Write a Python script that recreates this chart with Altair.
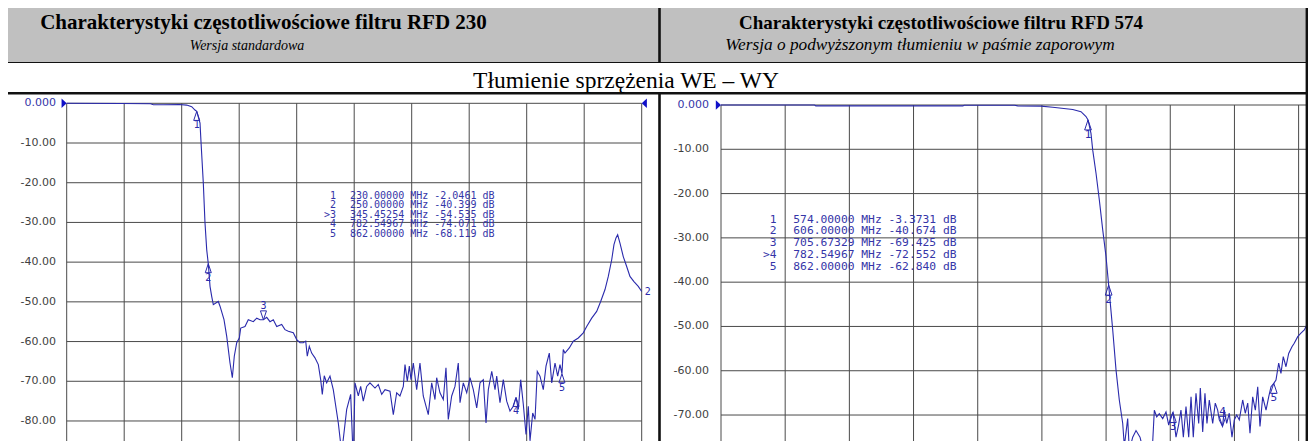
import altair as alt
import pandas as pd

# ---------------- text ----------------
TITLE_L = "Charakterystyki częstotliwościowe filtru RFD 230"
SUB_L = "Wersja standardowa"
TITLE_R = "Charakterystyki częstotliwościowe filtru RFD 574"
SUB_R = "Wersja o podwyższonym tłumieniu w paśmie zaporowym"
ROW2 = "Tłumienie sprzężenia WE – WY"

# ---------------- axes ----------------
F_START, F_STOP = 5.0, 1000.0
GRID_FREQ = [5, 104.5, 204, 303.5, 403, 502.5, 602, 701.5, 801, 900.5, 1000]
DB_TICKS = [0, -10, -20, -30, -40, -50, -60, -70, -80, -90]
DB_LABELS = ["0.000", "-10.00", "-20.00", "-30.00", "-40.00", "-50.00",
             "-60.00", "-70.00", "-80.00", "-90.00"]

# ---------------- RFD 230 trace (MHz, dB) ----------------
L_FREQ = [5, 100, 150, 155, 172, 200, 212.6, 221.3, 227.0, 230.0,
          235.7, 237.4, 241.4, 244.3, 247.3, 250.0, 253.0, 255.9, 258.7, 267.3,
          270.3, 277.2, 281.9, 287.6, 291.6, 295.0, 299.2, 303.7, 306.1, 313.5,
          319.2, 327.9, 333.8, 339.5, 345.5, 351.1, 356.8, 362.5, 368.4, 377.0,
          382.7, 388.5, 397.1, 403.0, 408.7, 414.4, 418.6, 421.3, 424.8, 428.9,
          434.6, 440.4, 444.5, 447.3, 450.7, 454.9, 460.6, 466.3, 475.0, 480.9,
          489.5, 496.4, 500.9, 503.9, 509.6, 513.7, 518.2, 524.1, 529.8, 538.5,
          544.2, 550.1, 555.8, 564.4, 570.2, 576.0, 581.7, 587.5, 590.4, 594.4,
          597.9, 600.8, 604.8, 610.6, 616.3, 622.0, 630.7, 636.6, 642.3, 645.2,
          650.9, 656.7, 661.3, 665.3, 671.2, 676.9, 682.6, 685.6, 691.3, 697.2,
          702.9, 708.6, 714.5, 720.2, 725.9, 730.6, 734.6, 740.5, 746.2, 749.1,
          754.8, 760.5, 766.4, 772.1, 777.8, 782.5, 786.5, 790.6, 795.1, 799.8,
          803.8, 806.7, 811.4, 815.4, 819.3, 824.0, 829.7, 834.4, 840.1, 844.3,
          850.0, 854.6, 858.6, 862.0, 864.3, 867.2, 874.7, 881.6, 890.3, 898.9,
          904.8, 913.5, 922.1, 929.0, 936.5, 942.2, 948.1, 952.0, 955.5, 958.4,
          962.4, 968.1, 974.0, 979.7, 986.6, 994.1, 1000]
L_DB = [0.0, -0.05, -0.1, -0.35, -0.35, -0.3, -0.45, -0.85, -1.7, -2.05,
        -5.0, -9.7, -20.1, -30.1, -36.9, -40.4, -46.1, -48.6, -50.7, -49.9,
        -51.1, -54.5, -58.7, -65.4, -69.1, -63.7, -60.3, -59.1, -56.6, -56.2,
        -54.5, -55.0, -54.1, -54.5, -54.5, -53.9, -55.0, -54.5, -56.2, -55.7,
        -57.0, -57.4, -57.8, -59.5, -60.3, -60.3, -59.9, -63.7, -61.2, -62.9,
        -64.1, -65.8, -69.6, -73.3, -68.6, -70.4, -68.7, -72.1, -80.5, -88.0,
        -77.1, -73.3, -90.0, -70.4, -73.7, -71.3, -75.0, -71.3, -70.4, -71.7,
        -70.8, -73.3, -72.1, -72.5, -78.4, -72.9, -73.7, -71.3, -65.8, -70.0,
        -66.2, -69.6, -65.4, -72.1, -65.4, -73.7, -78.4, -70.4, -74.6, -69.1,
        -72.9, -74.6, -66.6, -79.6, -73.7, -71.3, -65.4, -75.4, -70.4, -72.9,
        -69.1, -72.1, -76.7, -70.4, -69.6, -80.5, -72.1, -67.5, -72.1, -68.7,
        -75.4, -69.6, -75.0, -77.5, -76.3, -74.1, -77.1, -69.6, -75.8, -83.4,
        -76.3, -85.0, -78.0, -79.6, -67.5, -68.7, -72.1, -66.2, -62.9, -70.4,
        -65.4, -68.7, -65.8, -68.1, -62.0, -62.9, -61.6, -59.9, -59.1, -57.8,
        -56.2, -54.1, -52.4, -49.9, -46.9, -43.6, -39.4, -35.6, -33.9, -33.1,
        -35.2, -38.6, -41.1, -43.6, -44.9, -46.1, -47.4]

L_MK_ID = ["1", "2", "3", "4", "5"]
L_MK_F = [230.0, 250.0, 345.45254, 782.54967, 862.0]
L_MK_DB = [-2.0461, -40.399, -54.535, -74.071, -68.119]
L_ACTIVE = "3"
L_TRACE_NO = "2"

# ---------------- RFD 574 trace (MHz, dB) ----------------
R_FREQ = [5, 150, 152, 380, 382, 460, 465, 501.1, 519.3, 550.3,
          563.1, 570.9, 574.0, 578.6, 581.3, 586.4, 591.5, 596.8, 601.9, 606.0,
          612.3, 617.4, 622.5, 627.8, 630.3, 635.5, 638.0, 643.3, 648.4, 654.6,
          659.7, 670.1, 674.3, 676.8, 680.5, 684.5, 689.8, 694.9, 699.1, 702.6,
          705.7, 710.4, 714.6, 718.1, 721.8, 725.9, 730.1, 733.7, 737.2, 741.4,
          745.6, 748.1, 751.8, 755.3, 758.4, 762.0, 767.3, 771.3, 775.0, 777.5,
          782.5, 785.3, 789.0, 793.0, 797.2, 800.8, 804.5, 808.5, 813.8, 817.8,
          821.6, 825.1, 829.3, 833.4, 837.1, 840.6, 844.8, 850.0, 854.1, 857.7,
          862.0, 865.4, 869.6, 873.1, 876.7, 880.9, 885.1, 890.2, 893.7, 899.1,
          904.1, 909.3, 914.5, 919.7]
R_DB = [0.0, 0.0, -0.2, -0.2, -0.05, -0.05, -0.2, -0.25, -0.5, -1.0,
        -1.5, -2.6, -3.37, -6.4, -10.2, -15.4, -21.4, -28.2, -34.2, -40.67,
        -50.8, -59.8, -66.6, -71.9, -77.0, -70.8, -78.0, -75.0, -73.5, -75.0,
        -78.0, -78.0, -76.0, -68.9, -70.4, -69.7, -70.8, -69.3, -72.3, -70.3,
        -69.4, -75.0, -72.1, -68.9, -75.0, -68.1, -75.0, -65.9, -75.0, -65.1,
        -71.9, -63.9, -73.8, -65.1, -71.9, -66.6, -71.9, -67.3, -68.9, -71.1,
        -72.55, -68.9, -71.9, -69.6, -75.0, -71.1, -70.0, -71.1, -66.6, -69.6,
        -67.3, -74.1, -65.9, -68.9, -63.6, -72.6, -65.9, -68.9, -65.9, -63.6,
        -62.84, -62.1, -58.3, -60.6, -56.8, -59.1, -56.1, -54.6, -53.8, -52.3,
        -51.5, -50.8, -49.3, -47.0]

R_MK_ID = ["1", "2", "3", "4", "5"]
R_MK_F = [574.0, 606.0, 705.67329, 782.54967, 862.0]
R_MK_DB = [-3.3731, -40.674, -69.425, -72.552, -62.840]
R_ACTIVE = "4"

# ---------------- style ----------------
W, H = 1300, 433
BLUE = "#2a2aac"
TXT_BLUE = "#3535a8"
GRID = "#4a4a4a"
GRAY_TXT = "#3f3f3f"
HDR = "#c0c0c0"
SERIF = "Liberation Serif"
SANS = "DejaVu Sans"
MONO = "DejaVu Sans Mono"

UP = "M0,0L-0.67,2L0.67,2Z"
DOWN = "M0,0L-0.67,-2L0.67,-2Z"
RIGHT = "M0,0L-2.2,-2L-2.2,2Z"
LEFT = "M0,0L2.2,-2L2.2,2Z"


def one(**kw):
    return pd.DataFrame({k: [v] for k, v in kw.items()})


def plot_layers(freq, db, mk_id, mk_f, mk_db, active, sx, sy, lab_x, lab_min,
                tab_id_x, tab_x, tab_y, tab_fs, tab_lh, mk_fs, right_tri):
    X = lambda f: alt.X(f, scale=sx, axis=None)
    Y = lambda f: alt.Y(f, scale=sy, axis=None)
    ticks = pd.DataFrame({"db": DB_TICKS, "lab": DB_LABELS})
    grid_f = pd.DataFrame({"f": GRID_FREQ})
    trace = pd.DataFrame({"f": freq, "db": db})
    mk = pd.DataFrame({"id": mk_id, "f": mk_f, "db": mk_db})

    hgrid = alt.Chart(ticks).transform_calculate(f0=str(F_START), f1=str(F_STOP)).mark_rule(
        color=GRID, strokeWidth=1, clip=True).encode(x=X("f0:Q"), x2="f1:Q", y=Y("db:Q"))
    vgrid = alt.Chart(grid_f).transform_calculate(top="0", bot="-100").mark_rule(
        color=GRID, strokeWidth=1, clip=True).encode(x=X("f:Q"), y=Y("top:Q"), y2="bot:Q")
    line = alt.Chart(trace).mark_line(color=BLUE, strokeWidth=1.1, clip=True).encode(
        x=X("f:Q"), y=Y("db:Q"), order="f:Q")

    sc = 81 if mk_fs < 10.5 else 100
    up = alt.Chart(mk).transform_filter(alt.datum.id != active).mark_point(
        shape=UP, size=sc, filled=False, color=BLUE, strokeWidth=1, opacity=1).encode(
        x=X("f:Q"), y=Y("db:Q"))
    up_t = alt.Chart(mk).transform_filter(alt.datum.id != active).mark_text(
        font=MONO, fontSize=mk_fs, color=BLUE, baseline="top", dy=9).encode(
        x=X("f:Q"), y=Y("db:Q"), text="id:N")
    dn = alt.Chart(mk).transform_filter(alt.datum.id == active).mark_point(
        shape=DOWN, size=sc, filled=False, color=BLUE, strokeWidth=1, opacity=1).encode(
        x=X("f:Q"), y=Y("db:Q"))
    dn_t = alt.Chart(mk).transform_filter(alt.datum.id == active).mark_text(
        font=MONO, fontSize=mk_fs, color=BLUE, baseline="bottom", dy=-9).encode(
        x=X("f:Q"), y=Y("db:Q"), text="id:N")

    ids = "\n".join((">" + i) if i == active else i for i in mk_id)
    body = "\n".join(f"{f:.5f} MHz {d:#.5g} dB" for f, d in zip(mk_f, mk_db))
    tab_ids = alt.Chart(one(t=ids)).mark_text(
        font=MONO, fontSize=tab_fs, color=TXT_BLUE, align="right", baseline="top",
        lineBreak="\n", lineHeight=tab_lh).encode(
        x=alt.value(tab_id_x), y=alt.value(tab_y), text="t:N")
    tab_body = alt.Chart(one(t=body)).mark_text(
        font=MONO, fontSize=tab_fs, color=TXT_BLUE, align="left", baseline="top",
        lineBreak="\n", lineHeight=tab_lh).encode(
        x=alt.value(tab_x), y=alt.value(tab_y), text="t:N")

    lab0 = alt.Chart(ticks).transform_filter(alt.datum.db == 0).mark_text(
        font=SANS, fontSize=11, color=TXT_BLUE, align="right", baseline="middle").encode(
        x=alt.value(lab_x), y=Y("db:Q"), text="lab:N")
    labs = alt.Chart(ticks).transform_filter(
        (alt.datum.db < 0) & (alt.datum.db >= lab_min)).mark_text(
        font=SANS, fontSize=11, color=GRAY_TXT, align="right", baseline="middle").encode(
        x=alt.value(lab_x), y=Y("db:Q"), text="lab:N")

    ref = pd.DataFrame({"f": [F_START], "db": [0.0]})
    ref_l = alt.Chart(ref).mark_point(shape=RIGHT, size=22, filled=True, color="#1010c8",
                                      opacity=1, dx=-2).encode(x=X("f:Q"), y=Y("db:Q"))
    layers = [hgrid, vgrid, line, up, up_t, dn, dn_t, tab_ids, tab_body, lab0, labs, ref_l]
    if right_tri:
        ref2 = pd.DataFrame({"f": [F_STOP], "db": [0.0]})
        layers.append(alt.Chart(ref2).mark_point(shape=LEFT, size=22, filled=True,
                                                 color="#1010c8", opacity=1, dx=2).encode(
            x=X("f:Q"), y=Y("db:Q")))
    return layers


sxL = alt.Scale(domain=[F_START, F_STOP], range=[58.7, 633.7], zero=False, nice=False)
syL = alt.Scale(domain=[-100, 0], range=[492.4, 95.3], zero=False, nice=False)
sxR = alt.Scale(domain=[F_START, F_STOP], range=[713.0, 1354.8], zero=False, nice=False)
syR = alt.Scale(domain=[-100, 0], range=[539.9, 97.0], zero=False, nice=False)

left_layers = plot_layers(L_FREQ, L_DB, L_MK_ID, L_MK_F, L_MK_DB, L_ACTIVE, sxL, syL, 48, -80,
                          328, 342, 182.5, 10, 9.5, 10, True)
end_lab = alt.Chart(pd.DataFrame({"f": [L_FREQ[-1]], "db": [L_DB[-1]], "t": [L_TRACE_NO]})).mark_text(
    font=MONO, fontSize=10, color=BLUE, align="left", baseline="middle", dx=3).encode(
    x=alt.X("f:Q", scale=sxL, axis=None), y=alt.Y("db:Q", scale=syL, axis=None), text="t:N")
left = alt.layer(*left_layers, end_lab)

right_layers = plot_layers(R_FREQ, R_DB, R_MK_ID, R_MK_F, R_MK_DB, R_ACTIVE, sxR, syR, 701, -70,
                           768.5, 785.3, 205.5, 11.3, 11.85, 11, False)
right = alt.layer(*right_layers)

# ---------------- table frame and headings ----------------
d0 = one(a=0)
hdr_bg = alt.Chart(d0).mark_rect(color=HDR).encode(
    x=alt.value(0), x2=alt.value(W), y=alt.value(0), y2=alt.value(54))
rule = lambda x, x2, y, y2, w: alt.Chart(d0).mark_rule(color="#111111", strokeWidth=w).encode(
    x=alt.value(x), x2=alt.value(x2), y=alt.value(y), y2=alt.value(y2))
frame = [
    rule(0, W, 54.5, 54.5, 1.2),
    rule(0, W, 85.2, 85.2, 2.6),
    rule(651.5, 651.5, 0, 54.5, 2.6),
    rule(651.5, 651.5, 85, H, 2.6),
    rule(W - 1.2, W - 1.2, 0, H, 2.4),
]


def txt(s, x, y, size, weight="normal", style="normal"):
    return alt.Chart(one(t=s)).mark_text(
        font=SERIF, fontSize=size, fontWeight=weight, fontStyle=style, color="#000000",
        align="center", baseline="alphabetic").encode(
        x=alt.value(x), y=alt.value(y), text="t:N")


heads = [
    txt(TITLE_L, 255.5, 21, 21, weight="bold"),
    txt(TITLE_R, 933, 21, 19, weight="bold"),
    txt(SUB_L, 239, 42, 14, style="italic"),
    txt(SUB_R, 912, 42, 17.3, style="italic"),
    txt(ROW2, 618, 80, 23.5),
]

chart = alt.layer(hdr_bg, left, right, *frame, *heads).resolve_scale(
    x="independent", y="independent"
).properties(
    width=W, height=H, padding=0, autosize=alt.AutoSizeParams(type="none")
).configure_view(strokeWidth=0)

chart.save("out.html", embed_options={"renderer": "svg", "actions": False})
